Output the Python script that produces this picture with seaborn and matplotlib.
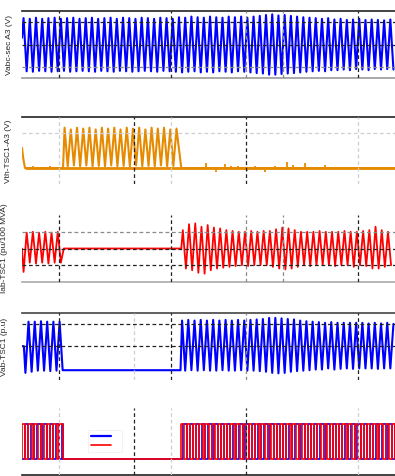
import numpy as np
import matplotlib
matplotlib.use("Agg")
import matplotlib.pyplot as plt
from matplotlib.lines import Line2D
import seaborn as sns

sns.set_style("white")
plt.rcParams["font.family"] = ["Liberation Sans", "DejaVu Sans"]

# ---- data (time 0..1 s, 60 Hz, half-cycle extremes) ----
HALF = 1 / 120

# panel 1: Vabc-sec A3, peaks / troughs per cycle
p1_pk = [1.18, 1.15, 1.2, 1.15, 1.18, 1.2, 1.15, 1.18, 1.2, 1.15,
         1.18, 1.2, 1.15, 1.18, 1.2, 1.15, 1.2, 1.18, 1.15, 1.2,
         1.18, 1.15, 1.2, 1.18, 1.15, 1.22, 1.2, 1.25, 1.22, 1.2,
         1.25, 1.22, 1.2, 1.25, 1.22, 1.25, 1.2, 1.25, 1.28, 1.32,
         1.35, 1.3, 1.32, 1.28, 1.25, 1.22, 1.2, 1.18, 1.15, 1.18,
         1.12, 1.15, 1.1, 1.12, 1.15, 1.1, 1.12, 1.1, 1.08, 1.12]
p1_tr = [-1.2, -1.22, -1.18, -1.2, -1.22, -1.2, -1.18, -1.22, -1.2, -1.18,
         -1.2, -1.22, -1.18, -1.2, -1.22, -1.18, -1.2, -1.22, -1.2, -1.18,
         -1.2, -1.22, -1.18, -1.2, -1.22, -1.25, -1.22, -1.2, -1.25, -1.22,
         -1.25, -1.2, -1.22, -1.25, -1.2, -1.22, -1.25, -1.28, -1.3, -1.35,
         -1.35, -1.32, -1.3, -1.28, -1.25, -1.22, -1.2, -1.18, -1.2, -1.15,
         -1.15, -1.12, -1.15, -1.1, -1.12, -1.15, -1.1, -1.12, -1.1, -1.12]

# panel 2: Vth-TSC1-A3, blocked-period oscillation + small spikes
p2_start_t = [0.0, 0.003, 0.008]
p2_start_v = [1.15, 0.6, 0.0]
p2_osc_t0 = 0.11
p2_osc = [2.3, 0.1, 2.2, 0.15, 2.3, 0.1, 2.25, 0.15, 2.3, 0.1, 2.2, 0.12,
          2.3, 0.1, 2.25, 0.15, 2.3, 0.1, 2.2, 0.12, 2.3, 0.1, 2.25, 0.15,
          2.3, 0.1, 2.2, 0.12, 2.3, 0.1, 2.25, 0.15, 2.3, 0.1, 2.2, 0.12, 2.25]
p2_spike_t = [0.03, 0.075, 0.492, 0.519, 0.543, 0.559, 0.578, 0.602, 0.626,
              0.651, 0.677, 0.71, 0.726, 0.758, 0.812]
p2_spike_v = [0.1, 0.1, 0.3, -0.25, 0.25, 0.1, 0.1, -0.15, 0.1,
              -0.2, 0.1, 0.35, 0.2, 0.3, 0.15]

# panel 3: Iab-TSC1, two conducting windows
p3a_t0 = 0.0
p3a = [-1.4, 0.95, -0.85, 1.0, -0.9, 0.95, -0.85, 1.0, -0.9, 0.95, -0.85, 1.0, -0.85]
p3b_t0 = 0.427
p3b = [1.1, -1.2, 1.45, -1.3, 1.5, -1.45, 1.3, -1.5, 1.4, -1.3, 1.25, -1.2,
       1.2, -1.15, 1.1, -1.1, 1.05, -1.05, 1.0, -1.0, 1.0, -1.05, 1.05, -1.0,
       1.0, -1.0, 1.05, -1.0, 1.05, -1.1, 1.15, -1.2, 1.25, -1.25, 1.2, -1.2,
       1.1, -1.1, 1.0, -1.0, 1.0, -1.05, 1.0, -1.0, 1.05, -1.0, 1.0, -1.0,
       1.0, -1.05, 1.0, -1.0, 1.05, -1.0, 1.0, -1.1, 1.0, -1.0, 1.05, -1.05,
       1.1, -1.2, 1.3, -1.2, 1.1, -1.1, 1.0, -1.0]

# panel 4: Vab-TSC1, trapped charge while blocked
p4a_t0 = 0.005
p4a = [-1.2, 1.1, -1.15, 1.1, -1.1, 1.12, -1.1, 1.1, -1.12, 1.1, -1.1, 1.1]
p4_hold = -1.08
p4b_t0 = 0.425
p4b = [1.15, -1.1, 1.18, -1.08, 1.15, -1.1, 1.18, -1.08, 1.15, -1.1, 1.18, -1.1,
       1.15, -1.08, 1.18, -1.1, 1.15, -1.1, 1.18, -1.08, 1.15, -1.1, 1.18, -1.1,
       1.2, -1.12, 1.22, -1.15, 1.27, -1.2, 1.27, -1.22, 1.25, -1.2, 1.22, -1.15,
       1.2, -1.12, 1.15, -1.1, 1.12, -1.08, 1.1, -1.05, 1.08, -1.05, 1.05, -1.0,
       1.08, -1.05, 1.05, -1.02, 1.05, -1.0, 1.05, -1.02, 1.05, -1.0, 1.05, -1.0,
       1.02, -1.0, 1.05, -1.02, 1.02, -1.0, 1.05, -1.0, 1.0]

# panel 5: firing pulses (enabled windows)
pulse_windows = [(0.0, 0.11), (0.425, 1.0)]
red_duty = 0.55
blue_delay = 0.45

labels = ["Vabc-sec A3 (V)", "Vth-TSC1-A3 (V)", "Iab-TSC1 (pu/100 MVA)", "Vab-TSC1 (p.u)", ""]


def extremes(t0, vals):
    t = [t0 + (i + 0.5) * HALF for i in range(len(vals))]
    return t, list(vals)


def line(ax, t, v, color, lw):
    sns.lineplot(x=np.asarray(t), y=np.asarray(v), ax=ax, color=color, lw=lw,
                 estimator=None, sort=False, legend=False)


fig = plt.figure(figsize=(3.95, 4.76), dpi=100)
H = 67 / 476
tops = [11, 117, 215, 313, 408]
axes = []
for top in tops:
    ax = fig.add_axes([22 / 395, 1 - top / 476 - H, 373 / 395, H])
    ax.set_xlim(0, 1)
    ax.set_xticks([]); ax.set_yticks([])
    for s in ax.spines.values():
        s.set_visible(False)
    axes.append(ax)

ylims = [(-1.5, 1.5), (-0.91, 2.91), (-2, 2), (-1.52, 1.49), (-0.47, 1.47)]
cmap = {"k": "#222222", "g": "#8a8a8a", "l": "#cfcfcf"}
vgrid = [[(0.1, "k"), (0.4, "k"), (0.6, "g"), (0.7, "g"), (0.9, "k")],
         [(0.1, "l"), (0.3, "k"), (0.4, "l"), (0.6, "k"), (0.9, "l")],
         [(0.1, "k"), (0.4, "k"), (0.6, "g"), (0.7, "g"), (0.9, "k")],
         [(0.1, "k"), (0.3, "l"), (0.4, "k"), (0.6, "g"), (0.9, "k")],
         [(0.1, "l"), (0.3, "k"), (0.4, "l"), (0.6, "k"), (0.9, "l")]]
hgrid = [[(1, "k"), (0, "k"), (-1, "g")], [(2, "l")],
         [(1, "g"), (0, "k"), (-1, "k")], [(1, "k"), (0, "k")], []]
spines = [{"top": "#222222", "bottom": "#999999"}, {"top": "#222222"},
          {"bottom": "#aaaaaa"}, {"top": "#444444"}, {"bottom": "#222222"}]
dash = (0, (3, 2.2))

for i, ax in enumerate(axes):
    ax.set_ylim(*ylims[i])
    for x, c in vgrid[i]:
        ax.axvline(x, color=cmap[c], ls=dash, lw=0.9, zorder=3)
    for y, c in hgrid[i]:
        ax.axhline(y, color=cmap[c], ls=dash, lw=0.9, zorder=3)
    for side, c in spines[i].items():
        ax.spines[side].set_visible(True)
        ax.spines[side].set_color(c)
        ax.spines[side].set_linewidth(1.2)

# panel 1
p1 = []
for a, b in zip(p1_pk, p1_tr):
    p1 += [a, b]
t, v = extremes(0.0, p1)
line(axes[0], [0.0] + t, [0.3] + v, "#0000ff", 1.5)

# panel 2
t, v = extremes(p2_osc_t0, p2_osc)
t2 = p2_start_t + [p2_osc_t0] + t + [0.427, 1.0]
v2 = p2_start_v + [0.0] + v + [0.0, 0.0]
line(axes[1], t2, v2, "#e68a00", 1.5)
axes[1].vlines(p2_spike_t, 0, p2_spike_v, color="#e68a00", lw=1.3)
axes[1].axhline(0, xmin=0.01, color="#e68a00", lw=2.0, zorder=1)

# panel 3
ta, va = extremes(p3a_t0, p3a)
tb, vb = extremes(p3b_t0, p3b)
line(axes[2], [0.0] + ta + [0.112, p3b_t0] + tb, [0.0] + va + [0.0, 0.0] + vb, "#ff0000", 1.3)

# panel 4
ta, va = extremes(p4a_t0, p4a)
tb, vb = extremes(p4b_t0, p4b)
line(axes[3], [0.0, p4a_t0] + ta + [0.109, p4b_t0] + tb,
     [0.0, 0.0] + va + [p4_hold, p4_hold] + vb, "#0000ff", 1.5)

# panel 5: pulses
T = 1 / 60
rx, ry, bx, by = [0.0], [0.0], [0.0], [0.0]
for t0, t1 in pulse_windows:
    c = t0
    while c < t1 - 1e-9:
        r_end = min(c + red_duty * T, t1)
        rx += [c, c, r_end, r_end]
        ry += [0, 1, 1, 0]
        b0 = c + blue_delay * T
        b1 = min(c + T, t1)
        if b0 < t1:
            bx += [b0, b0, b1, b1]
            by += [0, 1, 1, 0]
        c += T
rx.append(1.0); ry.append(0.0)
bx.append(1.0); by.append(0.0)
line(axes[4], bx, by, "#0000ff", 1.2)
line(axes[4], rx, ry, "#ff0000", 1.2)
handles = [Line2D([], [], color="#0000ff", lw=1.6), Line2D([], [], color="#ff0000", lw=1.2)]
leg = axes[4].legend(handles, [" ", " "], loc="upper left", bbox_to_anchor=(0.167, 0.72),
                     fontsize=5, handlelength=3.0, borderpad=0.4, labelspacing=0.3,
                     frameon=True, fancybox=False)
leg.get_frame().set_edgecolor("#eeeeee")
leg.get_frame().set_linewidth(0.6)

label_x = [10, 8.5, 5, 4.5]
label_y = [45, 151, 248, 347]
for lx, ly, lab in zip(label_x, label_y, labels[:4]):
    fig.text(lx / 395, 1 - ly / 476, lab, rotation=90, ha="center", va="center", fontsize=6)

fig.savefig("out.png", dpi=100)
